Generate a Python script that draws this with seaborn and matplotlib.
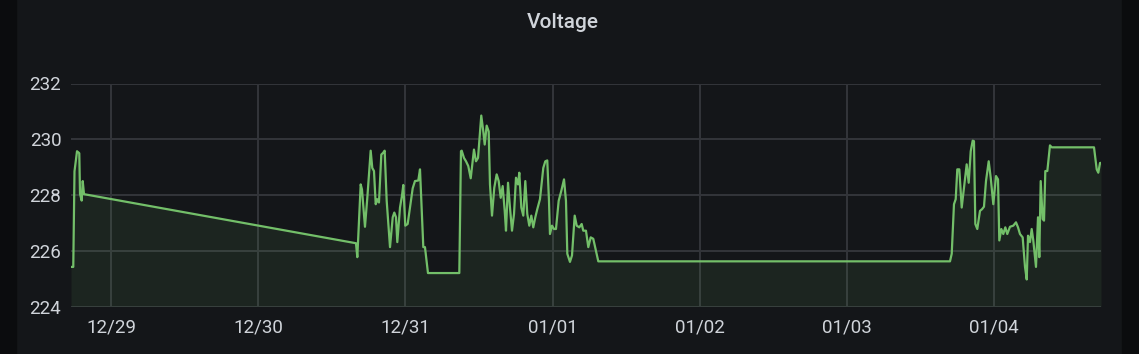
import numpy as np
import pandas as pd
import matplotlib
matplotlib.use("Agg")
import matplotlib.pyplot as plt
import seaborn as sns

# hours since 2022-12-28 00:00
hours = [17.48, 17.85, 18.05, 18.46, 18.83, 18.95, 19.22, 19.39, 19.60,
         63.94, 64.16, 64.71, 64.92, 65.41, 65.79, 66.34, 66.60, 66.88, 67.16,
         67.42, 67.69, 68.07, 68.35, 68.62, 68.95, 69.49, 69.93, 70.19, 70.47,
         70.68, 71.12, 71.44, 71.66, 71.98, 72.37, 72.75, 73.19, 73.56, 74.10,
         74.38, 74.66, 74.92, 75.19, 75.68, 80.79, 81.06, 81.18, 81.55, 81.88,
         82.25, 82.65, 83.18, 83.51, 83.84, 84.37, 84.70, 84.93, 85.25, 85.58,
         85.79, 86.12, 86.49, 86.88, 87.21, 87.54, 87.86, 88.19, 88.40, 88.73,
         89.05, 89.38, 89.71, 90.03, 90.36, 90.57, 90.90, 91.22, 91.55, 91.87,
         92.20, 92.53, 92.85, 93.18, 93.50, 93.94, 94.48, 94.81, 95.13, 95.41,
         95.57, 95.90, 96.23, 96.55, 96.99, 97.42, 97.86, 98.18, 98.40, 98.83,
         99.16, 99.60, 99.93, 100.35, 100.74, 101.00, 101.44, 101.82, 102.21,
         102.63, 103.45, 160.79, 161.07, 161.44, 161.72, 161.98, 162.31, 162.70,
         163.07, 163.51, 163.84, 164.17, 164.49, 164.70, 164.92, 165.24, 165.68,
         166.01, 166.33, 166.66, 167.10, 167.43, 167.85, 168.29, 168.62, 168.83,
         169.16, 169.48, 169.81, 170.13, 170.57, 171.11, 171.55, 171.88, 172.20,
         172.64, 173.02, 173.30, 173.51, 173.83, 174.11, 174.37, 174.81, 175.14,
         175.35, 175.58, 175.90, 176.12, 176.33, 176.66, 177.09, 177.37, 184.27,
         184.71, 184.97, 185.25, 185.41]

voltage = [225.42, 225.42, 228.85, 229.57, 229.50, 228.04, 227.80, 228.50, 228.03,
           226.27, 225.77, 228.38, 228.20, 226.86, 227.90, 229.59, 228.97, 228.86, 227.67,
           227.85, 227.73, 229.45, 229.51, 229.59, 227.79, 226.13, 227.20, 227.37, 227.20,
           226.31, 227.55, 227.97, 228.36, 226.90, 226.96, 227.55, 228.24, 228.50, 228.52,
           228.92, 227.43, 226.13, 226.13, 225.20, 225.20, 229.57, 229.59, 229.33, 229.21,
           229.04, 228.60, 229.63, 229.21, 229.33, 230.85, 230.28, 229.81, 230.49, 230.28,
           228.38, 227.26, 228.26, 228.74, 228.50, 227.90, 228.32, 227.43, 226.72, 228.44,
           227.55, 226.72, 227.32, 228.62, 228.38, 228.80, 227.55, 227.26, 228.50, 227.32,
           226.90, 227.26, 226.84, 227.20, 227.49, 227.85, 228.97, 229.21, 229.24, 227.79,
           226.60, 226.90, 226.78, 226.78, 227.79, 228.15, 228.56, 227.79, 225.89, 225.60,
           225.83, 227.26, 226.90, 226.84, 226.96, 226.72, 226.72, 226.13, 226.48,
           226.43, 225.62, 225.62, 225.89, 227.67, 227.85, 228.92, 228.92, 227.55,
           228.26, 229.10, 228.44, 229.57, 229.95, 229.93, 226.96, 226.78, 227.43,
           227.49, 227.58, 228.50, 229.21, 228.62, 227.67, 228.68, 228.56, 226.37,
           226.78, 226.60, 226.84, 226.60, 226.86, 226.90, 227.02, 226.84, 226.60,
           226.48, 225.42, 224.97, 226.54, 226.31, 226.78, 226.37, 225.42, 227.20,
           225.77, 228.50, 227.14, 227.08, 228.86, 228.86, 229.78, 229.71, 229.71,
           228.92, 228.80, 229.15, 229.15]

y_ticks = [224, 226, 228, 230, 232]
x_tick_labels = ["12/29", "12/30", "12/31", "01/01", "01/02", "01/03", "01/04"]
title = "Voltage"

base = pd.Timestamp("2022-12-28")
df = pd.DataFrame({"time": base + pd.to_timedelta(hours, unit="h"), "voltage": voltage})

PANEL = "#141619"
GREEN = "#73bf69"
TEXT = "#d0d4da"
GRID = "#33353a"

sns.set_theme(style="dark")
plt.rcParams["font.family"] = ["Roboto", "DejaVu Sans"]

fig = plt.figure(figsize=(11.39, 3.54), dpi=100, facecolor=PANEL)
fig.patches.append(plt.Rectangle((0, 0), 16 / 1139, 1, transform=fig.transFigure,
                                 color="#0b0c0e", zorder=0))
fig.patches.append(plt.Rectangle((1122 / 1139, 0), 17 / 1139, 1, transform=fig.transFigure,
                                 color="#0b0c0e", zorder=0))

ax = fig.add_axes([71 / 1139, 1 - 306.5 / 354, 1030 / 1139, 223 / 354])
ax.set_facecolor(PANEL)

sns.lineplot(data=df, x="time", y="voltage", ax=ax, color=GREEN, linewidth=1.6,
             estimator=None, zorder=3)
ax.fill_between(df["time"], df["voltage"], 224, color=GREEN, alpha=0.09, linewidth=0, zorder=2)

ax.set_xlim(base + pd.Timedelta(hours=17.48), base + pd.Timedelta(hours=185.41))
ax.set_ylim(224, 232)
ax.set_yticks(y_ticks)
ax.set_yticklabels([str(v) for v in y_ticks])
tick_dates = [base + pd.Timedelta(days=i + 1) for i in range(len(x_tick_labels))]
ax.set_xticks(tick_dates)
ax.set_xticklabels(x_tick_labels)

ax.grid(True, color=GRID, linewidth=1.4)
ax.tick_params(axis="both", colors=TEXT, labelsize=13.5, length=0)
ax.tick_params(axis="x", pad=9)
ax.tick_params(axis="y", pad=7)
for s in ax.spines.values():
    s.set_visible(False)
ax.set_xlabel("")
ax.set_ylabel("")

fig.text(563 / 1139, 1 - 22 / 354, title, ha="center", va="center", color=TEXT,
         fontsize=15, fontweight="medium")

fig.savefig("out.png", dpi=100, facecolor=PANEL)
